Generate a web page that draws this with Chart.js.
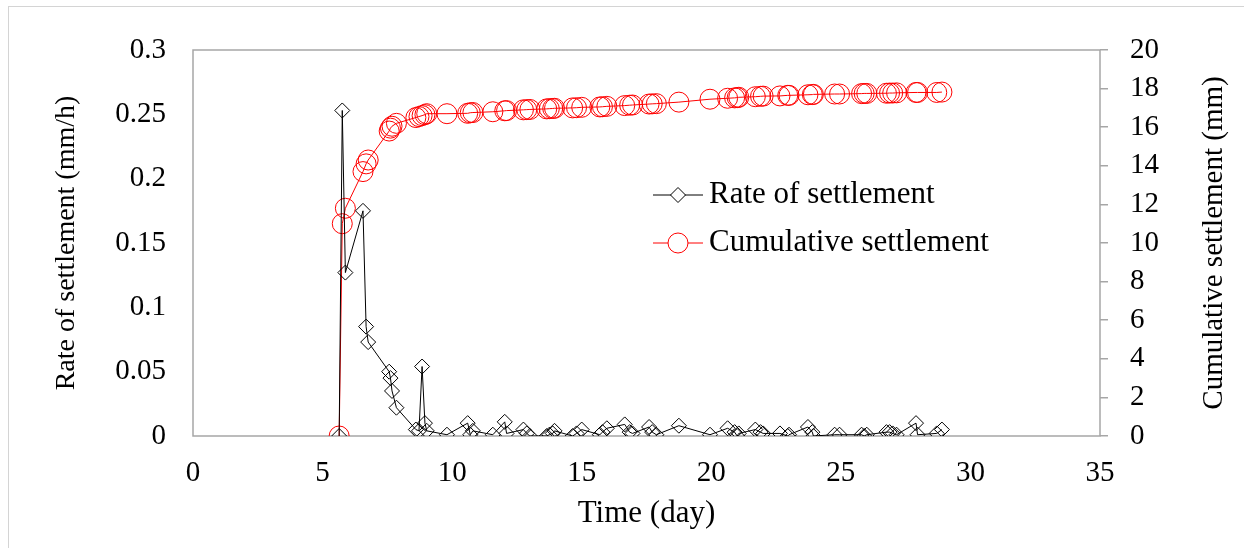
<!DOCTYPE html>
<html>
<head>
<meta charset="utf-8">
<script src="https://cdn.jsdelivr.net/npm/chart.js@4/dist/chart.umd.min.js"></script>
<style>
  html, body { margin: 0; padding: 0; background: #fff; }
  #wrap { position: relative; width: 1244px; height: 548px; }
  #frame { position: absolute; left: 8px; top: 6px; right: -10px; bottom: -10px;
           border-left: 1px solid #d4d4d4; border-top: 1px solid #d4d4d4; pointer-events: none; }
  canvas { position: absolute; left: 0; top: 0; }
</style>
</head>
<body>
<div id="wrap">
  <canvas id="myChart" width="1244" height="548"></canvas>
  <div id="frame"></div>
</div>
<script>
const serif = "'Liberation Serif', 'Times New Roman', serif";

// time (day)
const days = [5.64, 5.76, 5.88, 6.56, 6.68, 6.76, 7.57, 7.62, 7.68, 7.85,
  8.6, 8.72, 8.84, 8.95, 9.02, 9.8, 10.6, 10.7, 10.8, 11.57,
  12.03, 12.1, 12.75, 12.88, 13.0, 13.65, 13.75, 13.88, 13.95, 14.65,
  14.8, 15.0, 15.7, 15.8, 15.97, 16.66, 16.85, 16.96, 17.6, 17.72,
  17.88, 18.75, 19.95, 20.63, 20.9, 21.0, 21.06, 21.7, 21.9, 22.0,
  22.65, 22.95, 23.0, 23.73, 23.9, 23.94, 24.76, 24.95, 25.8, 25.9,
  26.0, 26.76, 26.88, 27.0, 27.15, 27.9, 27.96, 28.7, 28.9];

// rate of settlement (mm/h)
const rate = [0, 0.253, 0.127, 0.175, 0.085, 0.073, 0.050, 0.045, 0.035, 0.022,
  0.005, 0.004, 0.054, 0.010, 0.004, 0.001, 0.010, 0.001, 0.004, 0.001,
  0.011, 0.002, 0.005, 0.002, 0, 0, 0.001, 0.002, 0.004, 0,
  0.002, 0.005, 0.001, 0.003, 0.006, 0.009, 0.003, 0.002, 0.007, 0.003,
  0.001, 0.008, 0.001, 0.006, 0.003, 0, 0.002, 0.005, 0.003, 0.002,
  0.002, 0, 0.001, 0.007, 0.003, 0, 0.001, 0.001, 0.001, 0,
  0.001, 0.003, 0.003, 0.002, 0.001, 0.010, 0.001, 0.002, 0.005];

// cumulative settlement (mm)
const cumulative = [0, 11.0, 11.8, 13.7, 14.1, 14.3, 15.8, 15.95, 16.05, 16.2,
  16.5, 16.55, 16.6, 16.65, 16.7, 16.7, 16.72, 16.75, 16.76, 16.8,
  16.85, 16.86, 16.9, 16.91, 16.92, 16.95, 16.96, 16.97, 16.98, 17.0,
  17.01, 17.03, 17.05, 17.06, 17.08, 17.12, 17.14, 17.15, 17.2, 17.21,
  17.22, 17.3, 17.45, 17.5, 17.52, 17.53, 17.55, 17.58, 17.6, 17.61,
  17.62, 17.65, 17.65, 17.68, 17.69, 17.7, 17.72, 17.72, 17.74, 17.75,
  17.75, 17.76, 17.77, 17.77, 17.78, 17.8, 17.8, 17.8, 17.82];

const seriesNames = ["Rate of settlement", "Cumulative settlement"];

const ratePoints = days.map((d, i) => ({ x: d, y: rate[i] }));
const cumPoints = days.map((d, i) => ({ x: d, y: cumulative[i] }));

// frame, legend and right-hand title
const extras = {
  id: "extras",
  beforeDatasetsDraw(chart) {
    const { ctx, chartArea: a } = chart;
    ctx.save();
    ctx.strokeStyle = "#a6a6a6";
    ctx.lineWidth = 1.5;
    ctx.strokeRect(a.left, a.top, a.right - a.left, a.bottom - a.top);
    ctx.restore();
  },
  afterDraw(chart) {
    const { ctx, chartArea: a } = chart;
    ctx.save();
    // legend
    const rows = [
      { y: 195, color: "#000", style: "rectRot", r: 7.5 },
      { y: 243, color: "#ff0000", style: "circle", r: 10 },
    ];
    rows.forEach((row, i) => {
      ctx.strokeStyle = row.color;
      ctx.lineWidth = 1;
      ctx.beginPath();
      ctx.moveTo(653, row.y);
      ctx.lineTo(703, row.y);
      ctx.stroke();
      ctx.fillStyle = "#fff";
      Chart.helpers.drawPoint(ctx, { pointStyle: row.style, radius: row.r, borderWidth: 1 }, 678, row.y);
      ctx.fillStyle = "#000";
      ctx.font = "31px " + serif;
      ctx.textAlign = "left";
      ctx.textBaseline = "middle";
      ctx.fillText(seriesNames[i], 709, row.y);
    });
    // right axis title, reading upwards
    ctx.translate(1214, (a.top + a.bottom) / 2);
    ctx.rotate(-Math.PI / 2);
    ctx.textAlign = "center";
    ctx.textBaseline = "middle";
    ctx.font = "29px " + serif;
    ctx.fillStyle = "#000";
    ctx.fillText("Cumulative settlement (mm)", 0, 0);
    ctx.restore();
  },
};

const config = {
  type: "line",
  data: {
    datasets: [
      {
        label: seriesNames[0],
        data: ratePoints,
        yAxisID: "y",
        borderColor: "#000",
        borderWidth: 1,
        pointStyle: "rectRot",
        pointRadius: 7.5,
        pointBorderColor: "#000",
        pointBackgroundColor: "rgba(0,0,0,0)",
        pointBorderWidth: 1,
        tension: 0,
      },
      {
        label: seriesNames[1],
        data: cumPoints,
        yAxisID: "y1",
        borderColor: "#ff0000",
        borderWidth: 1,
        pointStyle: "circle",
        pointRadius: 10,
        pointBorderColor: "#ff0000",
        pointBackgroundColor: "rgba(0,0,0,0)",
        pointBorderWidth: 1,
        tension: 0,
      },
    ],
  },
  options: {
    responsive: false,
    animation: false,
    layout: { padding: { top: 50, left: 0, right: 0, bottom: 0 } },
    plugins: { legend: { display: false }, tooltip: { enabled: false } },
    scales: {
      x: {
        type: "linear",
        min: 0,
        max: 35,
        ticks: { stepSize: 5, color: "#000", padding: 12, font: { family: serif, size: 29 } },
        grid: { display: false },
        border: { display: false },
        title: { display: true, text: "Time (day)", color: "#000", padding: { top: 0, bottom: 16 }, font: { family: serif, size: 31 } },
        afterFit(scale) { scale.height = 112; },
      },
      y: {
        position: "left",
        min: 0,
        max: 0.3,
        ticks: {
          stepSize: 0.05, color: "#000", padding: 19, font: { family: serif, size: 29 },
          callback: (v) => String(Number(v.toFixed(2))),
        },
        grid: { display: false },
        border: { display: false },
        title: { display: true, text: "Rate of settlement (mm/h)", color: "#000", padding: { top: 50, bottom: 0 }, font: { family: serif, size: 28 } },
        afterFit(scale) { scale.width = 193; },
      },
      y1: {
        position: "right",
        min: 0,
        max: 20,
        ticks: { stepSize: 2, color: "#000", padding: 22, font: { family: serif, size: 29 } },
        grid: { drawOnChartArea: false, drawTicks: true, tickLength: 8, color: "#a6a6a6", lineWidth: 1.5 },
        border: { display: false },
        afterFit(scale) { scale.width = 144; },
      },
    },
  },
  plugins: [extras],
};

const myChart = new Chart(document.getElementById("myChart"), config);
</script>
</body>
</html>
